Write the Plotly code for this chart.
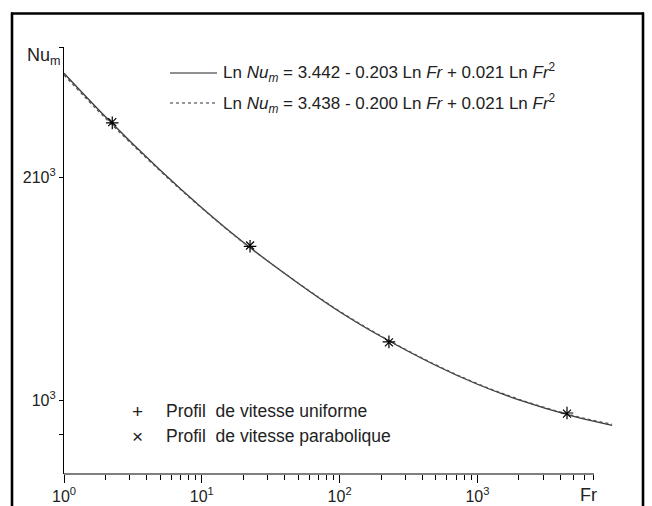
import math
import plotly.graph_objects as go

# ---------------- data ----------------
fr_curve = [1, 2, 5, 10, 20, 50, 100, 200, 500, 1000, 2000, 5000, 9500]
nu_fit_uniform = [2765, 2415, 2045, 1820, 1635, 1440, 1318, 1220, 1115, 1052, 1002, 952, 926]
nu_fit_parab = [2750, 2404, 2040, 1818, 1634, 1441, 1320, 1222, 1117, 1054, 1004, 954, 929]

fr_points = [2.24, 22.4, 228, 4470]
nu_uniform = [2370, 1615, 1200, 962]
nu_parab = [2375, 1619, 1198, 960]

x_tickvals = [1, 10, 100, 1000]
x_ticktext = ["10<sup>0</sup>", "10<sup>1</sup>", "10<sup>2</sup>", "10<sup>3</sup>"]
x_minor = [m * 10 ** d for d in range(4) for m in range(2, 10) if m * 10 ** d <= 7000]
y_tickvals = [900, 1000, 2000, 3000]
y_ticktext = ["", "10<sup>3</sup>", "210<sup>3</sup>", ""]

eq_uniform = "Ln <i>Nu<sub>m</sub></i> = 3.442 - 0.203 Ln <i>Fr</i> + 0.021 Ln <i>Fr</i><sup>2</sup>"
eq_parab = "Ln <i>Nu<sub>m</sub></i> = 3.438 - 0.200 Ln <i>Fr</i> + 0.021 Ln <i>Fr</i><sup>2</sup>"
lab_uniform = "Profil  de vitesse uniforme"
lab_parab = "Profil  de vitesse parabolique"

FONT = "Liberation Sans, Arial, sans-serif"
TXT = 17.5
W, H = 652, 506
L, R, T, B = 64, 32, 47, 32
PW, PH = W - L - R, H - T - B


def px(xp):
    return (xp - L) / PW


def py(yp):
    return (H - B - yp) / PH


fig = go.Figure()
fig.add_trace(go.Scatter(x=fr_curve, y=nu_fit_uniform, mode="lines", line=dict(color="#3a3a3a", width=1.3, shape="spline"),
                         name="fit uniforme", showlegend=False))
fig.add_trace(go.Scatter(x=fr_curve, y=nu_fit_parab, mode="lines", line=dict(color="#555555", width=1.3, dash="dot", shape="spline"),
                         name="fit parabolique", showlegend=False))
fig.add_trace(go.Scatter(x=fr_points, y=nu_uniform, mode="markers",
                         marker=dict(symbol="cross-thin", size=9, line=dict(color="black", width=1.2)),
                         name=lab_uniform, showlegend=False))
fig.add_trace(go.Scatter(x=fr_points, y=nu_parab, mode="markers",
                         marker=dict(symbol="x-thin", size=8, line=dict(color="black", width=1.2)),
                         name=lab_parab, showlegend=False))

fig.update_xaxes(type="log", range=[0, PW / 137.8], showline=False, showgrid=False, zeroline=False, automargin=False,
                 tickmode="array", tickvals=x_tickvals, ticktext=x_ticktext,
                 ticks="outside", ticklen=8, tickwidth=1.2, tickcolor="black",
                 tickfont=dict(family=FONT, size=16, color="#222"),
                 minor=dict(tickmode="array", tickvals=x_minor, ticks="outside", ticklen=5, tickwidth=1, tickcolor="black", showgrid=False))
fig.update_yaxes(type="log", range=[math.log10(3000) - PH / 741.0, math.log10(3000)], showline=True, linecolor="black", linewidth=1.2,
                 showgrid=False, zeroline=False, automargin=False, tickmode="array", tickvals=y_tickvals, ticktext=y_ticktext,
                 ticks="outside", ticklen=4, tickwidth=1.2, tickcolor="black",
                 tickfont=dict(family=FONT, size=16, color="#222"))

shapes = [
    # x axis line (ends at Fr = 7000)
    dict(type="line", xref="paper", yref="paper", x0=0, x1=px(594), y0=0, y1=0, line=dict(color="black", width=1.2)),
    # outer frame
    dict(type="line", xref="paper", yref="paper", x0=px(12), x1=px(12), y0=py(12.5), y1=py(520), line=dict(color="black", width=2.6)),
    dict(type="line", xref="paper", yref="paper", x0=px(643), x1=px(643), y0=py(12.5), y1=py(520), line=dict(color="black", width=2.6)),
    dict(type="line", xref="paper", yref="paper", x0=px(11), x1=px(644), y0=py(13.5), y1=py(13.5), line=dict(color="black", width=2.6)),
    # legend samples
    dict(type="line", xref="paper", yref="paper", x0=px(170), x1=px(217), y0=py(73), y1=py(73), line=dict(color="#222", width=1.2)),
    dict(type="line", xref="paper", yref="paper", x0=px(170), x1=px(217), y0=py(103), y1=py(103), line=dict(color="#333", width=1.2, dash="dot")),
]

ann = [
    dict(text=eq_uniform, x=px(221), y=py(73), xanchor="left", yanchor="middle", size=17),
    dict(text=eq_parab, x=px(221), y=py(103), xanchor="left", yanchor="middle", size=17),
    dict(text="+", x=px(137), y=py(411), xanchor="center", yanchor="middle", size=19),
    dict(text="×", x=px(137), y=py(436), xanchor="center", yanchor="middle", size=19),
    dict(text=lab_uniform, x=px(164), y=py(411), xanchor="left", yanchor="middle"),
    dict(text=lab_parab, x=px(164), y=py(436), xanchor="left", yanchor="middle"),
    dict(text="Nu<sub>m</sub>", x=px(63), y=py(56), xanchor="right", yanchor="middle", size=18),
    dict(text="Fr", x=px(588), y=py(495), xanchor="center", yanchor="middle", size=18),
]
for a in ann:
    sz = a.pop("size", TXT)
    a.update(xref="paper", yref="paper", showarrow=False, font=dict(family=FONT, size=sz, color="#222"))

fig.update_layout(width=W, height=H, margin=dict(l=L, r=R, t=T, b=B), paper_bgcolor="white", plot_bgcolor="white",
                  shapes=shapes, annotations=ann, showlegend=False)

fig.write_html("out.html")
